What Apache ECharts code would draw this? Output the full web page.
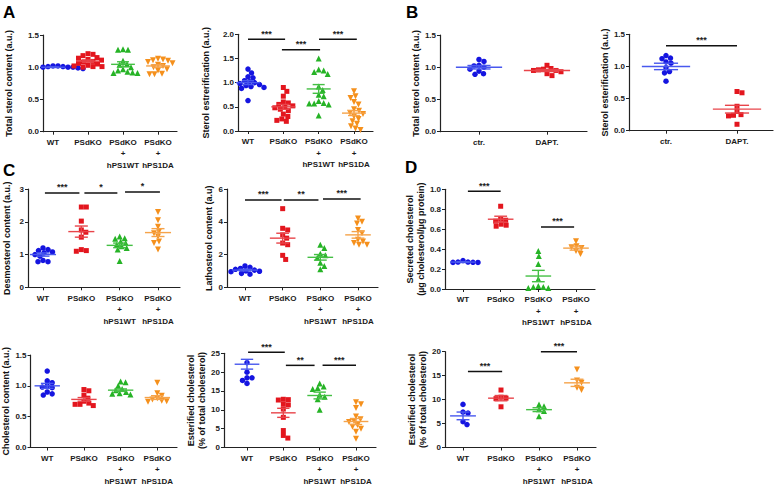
<!DOCTYPE html>
<html><head><meta charset="utf-8">
<script src="https://cdn.jsdelivr.net/npm/echarts@6/dist/echarts.min.js"></script>
<style>html,body{margin:0;padding:0;background:#fff;}#chart{width:775px;height:487px;}</style>
</head><body><div id="chart"></div>
<script>
// ---------- categories ----------
const groups4 = ['WT', 'PSdKO', 'PSdKO\n+\nhPS1WT', 'PSdKO\n+\nhPS1DA'];
const groups2 = ['ctr.', 'DAPT.'];

// ---------- A (left): total sterol content ----------
const totSterol_WT = [1.02, 1.01, 1.01, 1.0, 1.0, 1.0, 1.0, 0.99, 0.99, 0.99, 0.98, 1.02];
const totSterol_PSdKO = [1.21, 1.20, 1.18, 1.15, 1.14, 1.12, 1.11, 1.09, 1.08, 1.06, 1.05, 1.03, 1.02, 1.01, 1.01, 1.0];
const totSterol_hPS1WT = [1.28, 1.27, 1.27, 1.1, 1.05, 1.04, 1.0, 0.97, 0.95, 0.93, 0.92, 0.91, 0.91];
const totSterol_hPS1DA = [1.13, 1.12, 1.11, 1.1, 1.08, 1.06, 1.04, 1.02, 1.0, 0.97, 0.95, 0.9, 0.89, 0.89];
const totSterol_mean = [1.0, 1.095, 1.045, 1.02];
const totSterol_sem = [0.004, 0.017, 0.04, 0.02];

// ---------- A (right): sterol esterification ----------
const sterolEst_WT = [1.28, 1.2, 1.12, 1.1, 1.04, 1.02, 1.0, 0.98, 0.96, 0.95, 0.94, 0.92, 0.9, 0.88, 0.63];
const sterolEst_PSdKO = [0.9, 0.82, 0.72, 0.6, 0.58, 0.55, 0.52, 0.5, 0.48, 0.45, 0.42, 0.35, 0.3, 0.25, 0.22, 0.2];
const sterolEst_hPS1WT = [1.5, 1.27, 1.25, 1.22, 1.18, 0.92, 0.85, 0.75, 0.72, 0.62, 0.58, 0.57, 0.57, 0.55, 0.32];
const sterolEst_hPS1DA = [0.82, 0.72, 0.68, 0.6, 0.55, 0.45, 0.42, 0.38, 0.35, 0.3, 0.25, 0.2, 0.15, 0.1, 0.05, 0.02];
const sterolEst_mean = [1.0, 0.5, 0.87, 0.37];
const sterolEst_sem = [0.04, 0.05, 0.09, 0.05];
const sterolEst_sig = [[1.0, 2.05, 1.9, '***'], [1.96, 3.04, 1.68, '***'], [3.01, 4.08, 1.9, '***']];

// ---------- B (left): total sterol content, DAPT ----------
const daptTot_ctr = [1.12, 1.09, 1.03, 1.02, 1.0, 0.97, 0.94, 0.9, 0.89];
const daptTot_DAPT = [1.03, 0.98, 0.97, 0.96, 0.95, 0.95, 0.93, 0.9, 0.87];
const daptTot_mean = [1.0, 0.95];
const daptTot_sem = [0.027, 0.017];

// ---------- B (right): sterol esterification, DAPT ----------
const daptEst_ctr = [1.17, 1.13, 1.12, 1.07, 1.05, 0.98, 0.92, 0.9, 0.77];
const daptEst_DAPT = [0.61, 0.59, 0.38, 0.3, 0.25, 0.24, 0.23, 0.1];
const daptEst_mean = [1.0, 0.335];
const daptEst_sem = [0.05, 0.06];
const daptEst_sig = [[1, 2, 1.32, '***']];

// ---------- C (top left): desmosterol ----------
const desmo_WT = [1.2, 1.15, 1.12, 1.08, 1.05, 1.0, 0.95, 0.82, 0.78, 0.78];
const desmo_PSdKO = [2.45, 2.45, 2.02, 1.75, 1.68, 1.53, 1.15, 1.12, 1.1];
const desmo_hPS1WT = [1.55, 1.5, 1.48, 1.4, 1.35, 1.3, 1.25, 1.2, 1.15, 0.8];
const desmo_hPS1DA = [2.3, 2.05, 1.85, 1.7, 1.65, 1.55, 1.4, 1.35, 1.15];
const desmo_mean = [1.0, 1.7, 1.28, 1.67];
const desmo_sem = [0.05, 0.17, 0.07, 0.12];
const desmo_sig = [[1.05, 1.95, 2.88, '***'], [2.08, 2.94, 2.88, '*'], [3.14, 4.05, 2.91, '*']];

// ---------- C (top middle): lathosterol ----------
const latho_WT = [1.3, 1.22, 1.15, 1.1, 1.05, 1.0, 0.98, 0.95, 0.9, 0.85, 0.8];
const latho_PSdKO = [4.8, 3.6, 3.5, 3.2, 3.0, 2.7, 2.6, 1.95, 1.7];
const latho_hPS1WT = [2.6, 2.4, 2.05, 1.95, 1.8, 1.5, 1.3, 1.1];
const latho_hPS1DA = [4.2, 4.0, 3.9, 3.5, 3.3, 2.9, 2.8, 2.7, 2.6, 2.6];
const latho_mean = [1.05, 3.0, 1.83, 3.2];
const latho_sem = [0.05, 0.3, 0.17, 0.2];
const latho_sig = [[1.0, 1.97, 5.33, '***'], [2.03, 2.95, 5.33, '**'], [3.07, 4.07, 5.39, '***']];

// ---------- D (top): secreted cholesterol ----------
const secreted_WT = [0.285, 0.27, 0.27, 0.268, 0.267, 0.266];
const secreted_PSdKO = [0.83, 0.7, 0.69, 0.68, 0.65, 0.64, 0.63];
const secreted_hPS1WT = [0.38, 0.33, 0.25, 0.1, 0.03, 0.02, 0.02, 0.01, 0.01];
const secreted_hPS1DA = [0.48, 0.43, 0.42, 0.41, 0.38, 0.35];
const secreted_mean = [0.27, 0.7, 0.13, 0.41];
const secreted_sem = [0.004, 0.03, 0.057, 0.02];
const secreted_sig = [[1.13, 2.0, 0.98, '***'], [3.07, 3.95, 0.623, '***']];

// ---------- C (bottom left): cholesterol content ----------
const chol_WT = [1.24, 1.08, 1.05, 1.0, 0.98, 0.97, 0.9, 0.87, 0.85];
const chol_PSdKO = [0.94, 0.92, 0.85, 0.8, 0.75, 0.72, 0.7, 0.7, 0.68];
const chol_hPS1WT = [1.07, 1.06, 1.0, 0.95, 0.93, 0.9, 0.88, 0.87, 0.86];
const chol_hPS1DA = [1.05, 0.88, 0.84, 0.8, 0.78, 0.76, 0.75, 0.74];
const chol_mean = [1.0, 0.78, 0.93, 0.81];
const chol_sem = [0.04, 0.03, 0.02, 0.03];

// ---------- C (bottom middle): esterified cholesterol ----------
const estChol_WT = [22.5, 20, 18.5, 18.5, 17.8, 17];
const estChol_PSdKO = [12.8, 12.7, 12.6, 11.5, 11.3, 10.2, 8, 4.5, 3.2, 2.5];
const estChol_hPS1WT = [17, 16.2, 15.8, 15.5, 14, 13.5, 12.8, 10];
const estChol_hPS1DA = [12, 11.5, 10.5, 8.2, 7.5, 7, 6.8, 6, 5.5, 5, 4.2, 2.3];
const estChol_mean = [22.1, 9.2, 13.8, 6.9];
const estChol_sem = [1.3, 1.2, 0.9, 0.8];
const estChol_sig = [[1.03, 2.04, 25.25, '***'], [2.07, 2.86, 21.8, '**'], [3.08, 4.0, 21.8, '***']];

// ---------- D (bottom): esterified cholesterol ----------
const estCholD_WT = [9, 7.4, 7.2, 5.4, 4.8];
const estCholD_PSdKO = [12, 10.5, 10.3, 10.2, 8.5];
const estCholD_hPS1WT = [9, 8.6, 8, 7.6, 6.5];
const estCholD_hPS1DA = [16.3, 14, 13.5, 12.5, 12];
const estCholD_mean = [6.6, 10.3, 7.9, 13.5];
const estCholD_sem = [0.8, 0.55, 0.4, 0.75];
const estCholD_sig = [[1.13, 2.03, 15.87, '***'], [3.05, 4.0, 20, '***']];

// ---------- styles ----------
const PT_COLORS = ['#1515e0', '#e3161e', '#26b326', '#f5901c'];
const MEAN_COLORS = ['#4858ee', '#e8444a', '#44bf44', '#f5a34a'];
const SYMBOLS = ['circle', 'rect', 'triangle', 'triangle'];
const SYM_ROT = [0, 0, 0, 180];
const SYM_SIZE = [5.5, 5, 6, 6];

// panel layout: box = [axisX, axisEndX, yTopPx, yZeroPx, firstCenterPx, lastCenterPx]
const panels = [
  { cats: groups4, groups: [totSterol_WT, totSterol_PSdKO, totSterol_hPS1WT, totSterol_hPS1DA], mean: totSterol_mean, sem: totSterol_sem, sig: [],
    name: 'Total sterol content (a.u.)', ymax: 1.5, yint: 0.5, dec: 1, box: [43, 177, 35, 131.7, 53, 158], gap: 29 },
  { cats: groups4, groups: [sterolEst_WT, sterolEst_PSdKO, sterolEst_hPS1WT, sterolEst_hPS1DA], mean: sterolEst_mean, sem: sterolEst_sem, sig: sterolEst_sig,
    name: 'Sterol estrerification (a.u.)', ymax: 2.0, yint: 0.5, dec: 1, box: [238, 373, 34.3, 131, 248, 354], gap: 27 },
  { cats: groups2, groups: [daptTot_ctr, daptTot_DAPT], mean: daptTot_mean, sem: daptTot_sem, sig: [],
    name: 'Total sterol content (a.u.)', ymax: 1.5, yint: 0.5, dec: 1, box: [440, 587, 35, 131.7, 479, 547], gap: 16 },
  { cats: groups2, groups: [daptEst_ctr, daptEst_DAPT], mean: daptEst_mean, sem: daptEst_sem, sig: daptEst_sig,
    name: 'Sterol esterification (a.u.)', ymax: 1.5, yint: 0.5, dec: 1, box: [629, 773, 34.3, 130.7, 666, 737], gap: 16 },
  { cats: groups4, groups: [desmo_WT, desmo_PSdKO, desmo_hPS1WT, desmo_hPS1DA], mean: desmo_mean, sem: desmo_sem, sig: desmo_sig,
    name: 'Desmosterol content (a.u.)', ymax: 3, yint: 1, dec: 0, box: [28, 180, 189, 287.3, 43, 158], gap: 16 },
  { cats: groups4, groups: [latho_WT, latho_PSdKO, latho_hPS1WT, latho_hPS1DA], mean: latho_mean, sem: latho_sem, sig: latho_sig,
    name: 'Lathosterol content (a.u)', ymax: 6, yint: 2, dec: 0, box: [227, 378, 189, 287.3, 245, 358], gap: 11 },
  { cats: groups4, groups: [secreted_WT, secreted_PSdKO, secreted_hPS1WT, secreted_hPS1DA], mean: secreted_mean, sem: secreted_sem, sig: secreted_sig,
    name: 'Secreted cholesterol\n(µg cholesterol/µg protein)', ymax: 1.0, yint: 0.2, dec: 1, box: [445, 595, 189.3, 289, 463, 576], gap: 17 },
  { cats: groups4, groups: [chol_WT, chol_PSdKO, chol_hPS1WT, chol_hPS1DA], mean: chol_mean, sem: chol_sem, sig: [],
    name: 'Cholesterol content (a.u.)', ymax: 1.5, yint: 0.5, dec: 1, box: [28, 177, 355, 452.7, 45, 157], gap: 17 },
  { cats: groups4, groups: [estChol_WT, estChol_PSdKO, estChol_hPS1WT, estChol_hPS1DA], mean: estChol_mean, sem: estChol_sem, sig: estChol_sig,
    name: 'Esterified cholesterol\n(% of total cholesterol)', ymax: 25, yint: 5, dec: 0, box: [224, 376, 353.3, 451.7, 247, 356], gap: 15 },
  { cats: groups4, groups: [estCholD_WT, estCholD_PSdKO, estCholD_hPS1WT, estCholD_hPS1DA], mean: estCholD_mean, sem: estCholD_sem, sig: estCholD_sig,
    name: 'Esterified cholesterol\n(% of total cholesterol)', ymax: 20, yint: 5, dec: 0, box: [445, 596, 351.7, 451.7, 463, 577], gap: 17 }
];

// deterministic beeswarm spreading (pixel offsets)
function swarm(values, pxPerY, d) {
  const order = values.map((v, i) => i).sort((a, b) => values[b] - values[a]);
  const placed = [];
  const offs = new Array(values.length).fill(0);
  for (const i of order) {
    const y = values[i] * pxPerY;
    let best = 0;
    for (let k = 0; k < 400; k++) {
      const cand = (k % 2 === 1 ? 1 : -1) * Math.ceil(k / 2) * 0.5;
      if (placed.every(p => (p.x - cand) ** 2 + (p.y - y) ** 2 >= d * d)) { best = cand; break; }
    }
    placed.push({ x: best, y: y });
    offs[i] = best;
  }
  return offs;
}

const AX_COLOR = '#222';
const FONT = 'Liberation Sans, Arial, sans-serif';
const grids = [], xAxes = [], yAxes = [], series = [];

panels.forEach((p, pi) => {
  const [ax, ex, yt, yz, c1, cN] = p.box;
  const n = p.cats.length;
  const sp = (cN - c1) / (n - 1);
  const xmin = 1 - (c1 - ax) / sp;
  const xmax = n + (ex - cN) / sp;
  const pxPerY = (yz - yt) / p.ymax;
  const pos = p.cats.map((c, i) => i + 1);
  grids.push({ left: ax, top: yt, width: ex - ax, height: yz - yt, containLabel: false });
  xAxes.push({
    type: 'value', gridIndex: pi, min: xmin, max: xmax,
    axisLine: { show: true, onZero: false, lineStyle: { color: AX_COLOR, width: 1.2 } },
    axisTick: { show: true, customValues: pos, length: 3, lineStyle: { color: AX_COLOR, width: 1 } },
    axisLabel: { show: true, customValues: pos, formatter: v => p.cats[Math.round(v) - 1] || '',
      fontSize: 8, fontWeight: 'bold', color: '#1a1a1a', margin: 5, lineHeight: 11.5, fontFamily: FONT },
    splitLine: { show: false }
  });
  yAxes.push({
    type: 'value', gridIndex: pi, min: 0, max: p.ymax, interval: p.yint,
    axisLine: { show: true, onZero: false, lineStyle: { color: AX_COLOR, width: 1.2 } },
    axisTick: { show: true, length: 3, lineStyle: { color: AX_COLOR, width: 1 } },
    axisLabel: { formatter: v => v.toFixed(p.dec), fontSize: 8, fontWeight: 'bold', color: '#1a1a1a', margin: 4, fontFamily: FONT },
    splitLine: { show: false },
    name: p.name, nameLocation: 'middle', nameGap: p.gap,
    nameTextStyle: { fontSize: 9, fontWeight: 'bold', color: '#111', lineHeight: 10.5, fontFamily: FONT }
  });
  // scatter points
  p.groups.forEach((vals, gi) => {
    const offs = swarm(vals, pxPerY, 5);
    series.push({
      type: 'scatter', xAxisIndex: pi, yAxisIndex: pi,
      data: vals.map((v, k) => [gi + 1 + offs[k] / sp, v]),
      symbol: SYMBOLS[gi], symbolSize: SYM_SIZE[gi], symbolRotate: SYM_ROT[gi],
      itemStyle: { color: PT_COLORS[gi], opacity: 1 }, silent: true, z: 2
    });
  });
  // mean and SEM
  series.push({
    type: 'custom', xAxisIndex: pi, yAxisIndex: pi, clip: false, silent: true, z: 3,
    data: p.mean.map((m, gi) => [gi + 1, m, p.sem[gi], gi]),
    renderItem: (params, api) => {
      const x = api.value(0), m = api.value(1), s = api.value(2), ci = api.value(3);
      const pm = api.coord([x, m]), pt = api.coord([x, m + s]), pb = api.coord([x, m - s]);
      const hw = sp * 0.34, cw = sp * 0.17;
      const st = { stroke: MEAN_COLORS[ci], lineWidth: 1.4, fill: null };
      return { type: 'group', children: [
        { type: 'line', shape: { x1: pm[0] - hw, y1: pm[1], x2: pm[0] + hw, y2: pm[1] }, style: st },
        { type: 'line', shape: { x1: pt[0], y1: pt[1], x2: pb[0], y2: pb[1] }, style: st },
        { type: 'line', shape: { x1: pt[0] - cw, y1: pt[1], x2: pt[0] + cw, y2: pt[1] }, style: st },
        { type: 'line', shape: { x1: pb[0] - cw, y1: pb[1], x2: pb[0] + cw, y2: pb[1] }, style: st }
      ] };
    }
  });
  // significance bars
  if (p.sig.length) {
    series.push({
      type: 'custom', xAxisIndex: pi, yAxisIndex: pi, clip: false, silent: true, z: 4,
      data: p.sig.map(s => [s[0], s[1], s[2]]),
      renderItem: (params, api) => {
        const a = api.coord([api.value(0), api.value(2)]);
        const b = api.coord([api.value(1), api.value(2)]);
        return { type: 'group', children: [
          { type: 'line', shape: { x1: a[0], y1: a[1], x2: b[0], y2: b[1] }, style: { stroke: '#111', lineWidth: 1.5 } },
          { type: 'text', x: (a[0] + b[0]) / 2, y: a[1] - 1, style: { text: p.sig[params.dataIndex][3], fill: '#222',
            font: 'bold 9px ' + FONT, textAlign: 'center', textVerticalAlign: 'bottom' } }
        ] };
      }
    });
  }
});

const letterFont = 'bold 17px ' + FONT;
const chart = echarts.init(document.getElementById('chart'), null, { renderer: 'svg', width: 775, height: 487 });
chart.setOption({
  backgroundColor: '#ffffff',
  animation: false,
  grid: grids, xAxis: xAxes, yAxis: yAxes, series: series,
  graphic: [
    { type: 'text', left: 3, top: 4, style: { text: 'A', font: letterFont, fill: '#000' } },
    { type: 'text', left: 406, top: 4, style: { text: 'B', font: letterFont, fill: '#000' } },
    { type: 'text', left: 3, top: 162, style: { text: 'C', font: letterFont, fill: '#000' } },
    { type: 'text', left: 405, top: 159, style: { text: 'D', font: letterFont, fill: '#000' } }
  ]
});
</script>
</body></html>
